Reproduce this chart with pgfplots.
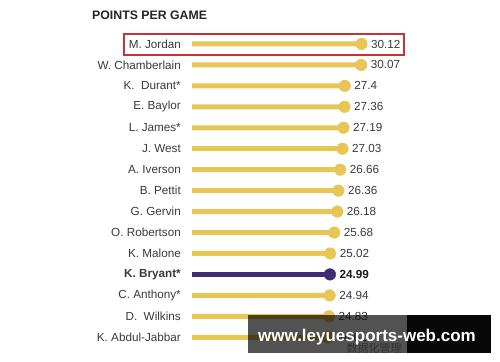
\documentclass[border=0pt]{standalone}
\usepackage{pgfplots}
\pgfplotsset{compat=1.18}
\usepackage{pgfplotstable}
\usepackage{fontspec}
\setmainfont{Liberation Sans}
\newfontfamily\cjk{Noto Sans CJK SC}
\definecolor{gold}{RGB}{231,198,86}
\definecolor{lakers}{RGB}{64,44,112}
\definecolor{txt}{RGB}{58,58,58}
\definecolor{boxred}{RGB}{196,52,52}

% all players except the highlighted one
\pgfplotstableread{
idx ppg
0 30.12
1 30.07
2 27.4
3 27.36
4 27.19
5 27.03
6 26.66
7 26.36
8 26.18
9 25.68
10 25.02
12 24.94
13 24.83
14 24.61
}\golddata
% highlighted player
\pgfplotstableread{
idx ppg
11 24.99
}\hidata

\begin{document}
\begin{tikzpicture}
\useasboundingbox (0,0) rectangle (500bp,362bp);
\fill[white] (0,0) rectangle (500bp,362bp);
\node[anchor=base west, inner sep=0pt, text=black!85,
      font=\bfseries\fontsize{12.3bp}{14bp}\selectfont] at (92bp,342bp) {POINTS PER GAME};
\begin{axis}[
  at={(192bp,328.5bp)}, anchor=north west,
  x=6.15bp, y=20.95bp, y dir=reverse,
  xmin=2.56, xmax=40, ymin=-0.5, ymax=14.5,
  axis line style={draw=none}, xtick=\empty,
  ytick={0,...,14}, major tick length=0pt,
  yticklabels={M. Jordan, W. Chamberlain, K.~~Durant*, E. Baylor, L. James*, J. West,
    A. Iverson, B. Pettit, G. Gervin, O. Robertson, K. Malone, \textbf{K. Bryant*},
    C. Anthony*, D.~~Wilkins, K. Abdul-Jabbar},
  yticklabel style={inner sep=0pt, anchor=east, xshift=-11bp, text=txt,
    font=\fontsize{11.7bp}{14bp}\selectfont},
  clip=true,
]
\addplot[xbar, bar width=5bp, bar shift=0pt, fill=gold, draw=none]
  table[x=ppg, y=idx] {\golddata};
\addplot[xbar, bar width=5bp, bar shift=0pt, fill=lakers, draw=none]
  table[x=ppg, y=idx] {\hidata};
\addplot[gold, only marks, mark=*, mark size=5.8bp,
  nodes near coords, point meta=explicit symbolic,
  nodes near coords style={anchor=west, inner sep=0pt, xshift=9.5bp, text=txt,
    font=\fontsize{11.7bp}{14bp}\selectfont}]
  table[x=ppg, y=idx, meta=ppg] {\golddata};
\addplot[lakers, only marks, mark=*, mark size=5.8bp,
  nodes near coords, point meta=explicit symbolic,
  nodes near coords style={anchor=west, inner sep=0pt, xshift=9.5bp, text=black!90,
    font=\bfseries\fontsize{11.7bp}{14bp}\selectfont}]
  table[x=ppg, y=idx, meta=ppg] {\hidata};
\end{axis}
\draw[boxred, line width=1.1bp] (124bp,307bp) rectangle (404bp,328bp);
% watermark overlay
\node[anchor=base, inner sep=0pt, text=black!40,
      font=\cjk\fontsize{11bp}{13bp}\selectfont] at (374bp,10bp) {数据化管理};
\fill[black, opacity=0.68] (248bp,9bp) rectangle (407bp,47bp);
\fill[black, opacity=0.97] (407bp,9bp) rectangle (491bp,47bp);
\node[anchor=base west, inner sep=0pt, text=white,
      font=\bfseries\fontsize{17bp}{20bp}\selectfont] at (258bp,20.5bp) {www.leyuesports-web.com};
\end{tikzpicture}
\end{document}
